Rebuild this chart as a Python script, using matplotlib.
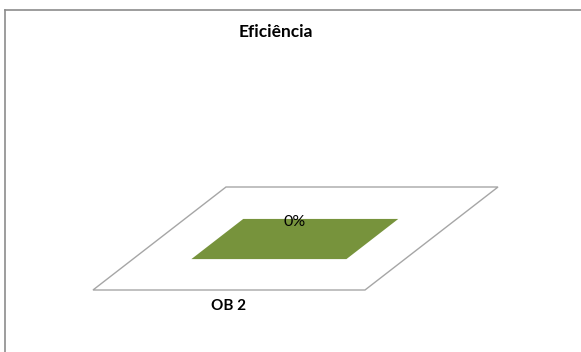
import matplotlib
matplotlib.use('Agg')
from matplotlib import pyplot as plt
from matplotlib.patches import Polygon
from matplotlib.lines import Line2D
from matplotlib.transforms import Affine2D

# dados do grafico
categorias = ['OB 2']
valores = [0.0]
titulo = 'Eficiência'

W, H = 581, 352
fig = plt.figure(figsize=(W / 100, H / 100), dpi=100)
plt.rcParams['font.family'] = ['Lato', 'DejaVu Sans']

# moldura do grafico (cortada a direita e em baixo)
fig.add_artist(Line2D([5 / W, 5 / W], [0, 1 - 10 / H], color='#8c8c8c', lw=1.2))
fig.add_artist(Line2D([5 / W, 1], [1 - 10 / H, 1 - 10 / H], color='#8c8c8c', lw=1.2))

# eixo do "chao" 3D: x = categoria, y = profundidade
ax = fig.add_axes([93 / W, 1 - 290 / H, 272 / W, 103 / H])
n = len(categorias)
ax.set_xlim(-0.5, n - 0.5)
ax.set_ylim(0, 1)
ax.axis('off')

skew = 133 / 272  # deslocamento horizontal por unidade de profundidade
alt = 1.5         # altura (unidades de profundidade) para 100%
proj = Affine2D([[1, skew, 0], [0, 1, 0], [0, 0, 1]]) + ax.transData

# piso
piso = Polygon([(-0.5, 0), (n - 0.5, 0), (n - 0.5, 1), (-0.5, 1)], closed=True,
               facecolor='white', edgecolor='#a6a6a6', lw=1, transform=proj, clip_on=False)
ax.add_patch(piso)

largura = 0.57
d0, d1 = 0.30, 0.69
for i, v in enumerate(valores):
    x0, x1 = i - largura / 2, i + largura / 2
    z = v * alt
    # face frontal
    ax.add_patch(Polygon([(x0, d0), (x1, d0), (x1, d0 + z), (x0, d0 + z)],
                         closed=True, facecolor='#77933c', edgecolor='none',
                         transform=proj, clip_on=False))
    # topo
    ax.add_patch(Polygon([(x0, d0 + z), (x1, d0 + z), (x1, d1 + z), (x0, d1 + z)],
                         closed=True, facecolor='#77933c', edgecolor='none',
                         transform=proj, clip_on=False))
    ax.annotate('{:.0%}'.format(v), xy=(i, (d0 + d1) / 2 + z), xycoords=proj,
                xytext=(0, 17), textcoords='offset pixels', ha='center', va='center',
                fontsize=11.5, color='black', annotation_clip=False)
    ax.annotate(categorias[i], xy=(i, 0), xycoords=proj, xytext=(0, -16),
                textcoords='offset pixels', ha='center', va='center',
                fontsize=11, fontweight='bold', color='black', annotation_clip=False)

fig.text(276 / W, 1 - 32 / H, titulo, ha='center', va='center',
         fontsize=12.5, fontweight='bold')

fig.savefig('out.png', dpi=100, facecolor='white')
